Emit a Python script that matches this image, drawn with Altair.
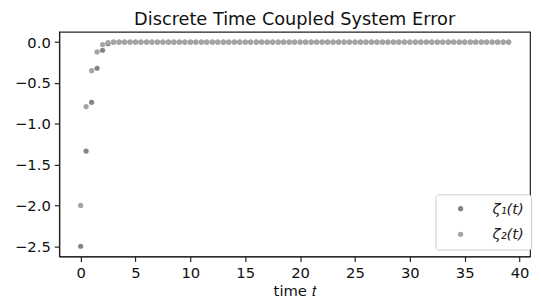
import altair as alt
import pandas as pd

# time samples (step 0.5 from 0 to 39)
t_values = [i * 0.5 for i in range(79)]

zeta1_head = [-2.50, -1.335, -0.737, -0.32, -0.10, -0.02]
zeta2_head = [-2.00, -0.79, -0.35, -0.12, -0.03, -0.005]
zeta1 = zeta1_head + [0.0] * (79 - len(zeta1_head))
zeta2 = zeta2_head + [0.0] * (79 - len(zeta2_head))

series_names = ["ζ₁(t)", "ζ₂(t)"]
series_colors = ["#858585", "#a5a5a5"]

x_ticks = [0, 5, 10, 15, 20, 25, 30, 35, 40]
y_ticks = [-2.5, -2.0, -1.5, -1.0, -0.5, 0.0]

rows = []
for t, a, b in zip(t_values, zeta1, zeta2):
    rows.append({"t": t, "value": a, "series": series_names[0], "order": 0})
    rows.append({"t": t, "value": b, "series": series_names[1], "order": 1})
df = pd.DataFrame(rows)

FONT = "DejaVu Sans"

chart = (
    alt.Chart(df)
    .mark_circle(size=28, opacity=1)
    .encode(
        x=alt.X(
            "t:Q",
            scale=alt.Scale(domain=[-1.95, 40.95], nice=False, zero=False),
            axis=alt.Axis(values=x_ticks, format="d", title="time 𝑡"),
        ),
        y=alt.Y(
            "value:Q",
            scale=alt.Scale(domain=[-2.625, 0.125], nice=False, zero=False),
            axis=alt.Axis(
                values=y_ticks,
                format=".1f",
                title=None,
                labelExpr="replace(datum.label, '-', '−')",
            ),
        ),
        color=alt.Color(
            "series:N",
            scale=alt.Scale(domain=series_names, range=series_colors),
            legend=alt.Legend(
                title=None,
                orient="none",
                legendX=382,
                legendY=165,
                padding=7,
                symbolOffset=11,
                labelOffset=25,
                rowPadding=10,
                symbolSize=28,
                symbolType="circle",
                labelFontSize=15,
                labelFontStyle="italic",
                labelFont=FONT,
                labelColor="#222222",
                fillColor="white",
                strokeColor="#cccccc",
                cornerRadius=3,
            ),
        ),
        order=alt.Order("order:Q"),
    )
    .properties(
        width=478,
        height=228,
        title=alt.TitleParams(
            "Discrete Time Coupled System Error",
            font=FONT,
            fontSize=18,
            fontWeight="normal",
            color="#111111",
            anchor="middle",
            offset=3,
        ),
        autosize=alt.AutoSizeParams(type="none"),
        padding={"left": 52, "top": 22, "right": 3, "bottom": 46},
    )
    .configure_view(stroke="#222222", strokeWidth=1.2)
    .configure_axis(
        grid=False,
        domainColor="#222222",
        domainWidth=1.2,
        tickColor="#222222",
        tickSize=5,
        tickWidth=1.2,
        labelFont=FONT,
        labelFontSize=15,
        labelColor="#111111",
        labelPadding=4,
        titleFont=FONT,
        titleFontSize=15,
        titleFontWeight="normal",
        titleColor="#111111",
        titlePadding=4,
    )
)

chart.save("out.html", embed_options={"renderer": "svg", "actions": False})
